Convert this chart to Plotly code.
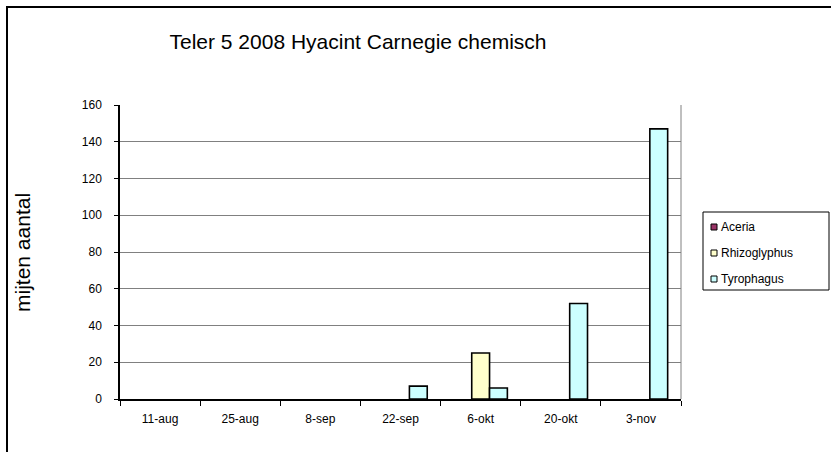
import plotly.graph_objects as go

categories = ["11-aug", "25-aug", "8-sep", "22-sep", "6-okt", "20-okt", "3-nov"]
aceria = [0, 0, 0, 0, 0, 0, 0]
rhizoglyphus = [0, 0, 0, 0, 25, 0, 0]
tyrophagus = [0, 0, 0, 7, 6, 52, 147]
y_ticks = [0, 20, 40, 60, 80, 100, 120, 140, 160]
series_names = ["Aceria", "Rhizoglyphus", "Tyrophagus"]
series_colors = ["#993366", "#FFFFCC", "#CCFFFF"]
series_values = [aceria, rhizoglyphus, tyrophagus]

FONT = "Arial, Liberation Sans, sans-serif"
W, H = 831, 452
L, T = 120, 105
pw, ph = 561, 294
R, B = W - L - pw, H - T - ph


def px_x(v):
    return (v - L) / pw


def px_y(v):
    return (H - B - v) / ph


fig = go.Figure()
for name, vals, col in zip(series_names, series_values, series_colors):
    fig.add_trace(go.Bar(
        x=categories, y=vals, name=name, showlegend=False,
        marker=dict(color=col,
                    line=dict(color="black",
                              width=[0 if v == 0 else 1.6 for v in vals])),
    ))

shapes = [
    dict(type="line", xref="x domain", yref="y domain",
         x0=1, x1=1, y0=0, y1=1,
         line=dict(color="#808080", width=1)),
    dict(type="rect", xref="paper", yref="paper",
         x0=px_x(7), x1=2, y0=-1, y1=px_y(7),
         line=dict(color="black", width=2), layer="below"),
    # legend box
    dict(type="rect", xref="paper", yref="paper",
         x0=px_x(703), x1=px_x(829), y0=px_y(290), y1=px_y(212),
         line=dict(color="black", width=1), fillcolor="white"),
]
annotations = [
    dict(text="mijten aantal", xref="paper", yref="paper",
         x=px_x(22), y=px_y(253), xanchor="center", yanchor="middle",
         textangle=-90, showarrow=False,
         font=dict(size=21, family=FONT, color="black")),
]
for i, (name, col) in enumerate(zip(series_names, series_colors)):
    cy = 227 + 26 * i
    shapes.append(dict(type="rect", xref="paper", yref="paper",
                       x0=px_x(711), x1=px_x(717), y0=px_y(cy + 3), y1=px_y(cy - 3),
                       line=dict(color="black", width=1), fillcolor=col))
    annotations.append(dict(text=name, xref="paper", yref="paper",
                            x=px_x(719), y=px_y(cy), xanchor="left", yanchor="middle",
                            showarrow=False,
                            font=dict(size=12, family=FONT, color="black")))

fig.update_layout(
    width=W, height=H,
    margin=dict(l=L, r=R, t=T, b=B, autoexpand=False),
    paper_bgcolor="white", plot_bgcolor="white",
    barmode="group", bargap=0.333, bargroupgap=0,
    font=dict(family=FONT, color="black", size=12),
    title=dict(text="Teler 5 2008 Hyacint Carnegie chemisch",
               font=dict(size=21, family=FONT, color="black"),
               x=358 / W, xanchor="center",
               y=1 - 42 / H, yanchor="middle"),
    showlegend=False,
    xaxis=dict(type="category", showgrid=False, showline=True,
               linecolor="black", linewidth=1.5, ticks="outside",
               tickson="boundaries", ticklen=5, tickcolor="black",
               ticklabelstandoff=8,
               tickfont=dict(size=12)),
    yaxis=dict(range=[0, 160], tickvals=y_ticks, showgrid=True,
               gridcolor="#808080", gridwidth=1, showline=True,
               linecolor="black", linewidth=1.5, ticks="outside",
               ticklen=4, tickcolor="black", zeroline=False,
               ticklabelstandoff=10, tickfont=dict(size=12)),
    shapes=shapes,
    annotations=annotations,
)

fig.write_html("out.html", config={"displayModeBar": False},
               post_script="document.body.style.margin='0';document.body.style.padding='0';")
